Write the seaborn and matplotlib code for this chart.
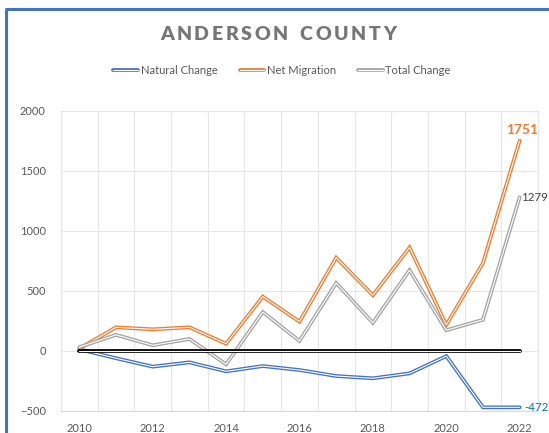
import numpy as np
import pandas as pd
import seaborn as sns
import matplotlib as mpl
import matplotlib.pyplot as plt
from matplotlib.lines import Line2D
from matplotlib.legend_handler import HandlerTuple

# ── Data ────────────────────────────────────────────────────────────────
YEARS = [2010, 2011, 2012, 2013, 2014, 2015, 2016, 2017, 2018, 2019, 2020, 2021, 2022]
NATURAL_CHANGE = [12, -63, -133, -97, -172, -128, -161, -211, -230, -189, -45, -472, -472]
NET_MIGRATION = [18, 195, 178, 195, 58, 450, 242, 775, 462, 860, 215, 730, 1751]
TOTAL_CHANGE = [30, 132, 45, 98, -114, 322, 81, 564, 232, 671, 170, 258, 1279]
BASELINE = [0] * len(YEARS)

SERIES = ["Natural Change", "Net Migration", "Total Change"]
COLORS = {"Natural Change": "#4472C4", "Net Migration": "#ED7D31", "Total Change": "#A5A5A5"}

df = pd.DataFrame({
    "Year": YEARS * 3,
    "Value": NATURAL_CHANGE + NET_MIGRATION + TOTAL_CHANGE,
    "Series": np.repeat(SERIES, len(YEARS)),
})

# ── Style ────────────────────────────────────────────────────────────────
sns.set_style("white")
plt.rcParams["font.family"] = ["Lato", "DejaVu Sans"]
TXT = "#595959"
GRID = "#E6E6E6"
OUTER, INNER = 2.7, 0.8   # double ("compound") line look

fig = plt.figure(figsize=(5.49, 4.33), dpi=100)
fig.patch.set_facecolor("white")
ax = fig.add_axes([61 / 549, 1 - 410.7 / 433, (538 - 61) / 549, 300 / 433])


def double_line(x, y, color):
    sns.lineplot(x=x, y=y, color=color, lw=OUTER, ax=ax, legend=False,
                 solid_joinstyle="miter")
    sns.lineplot(x=x, y=y, color="white", lw=INNER, ax=ax, legend=False,
                 solid_joinstyle="miter")


for name in SERIES:
    sub = df[df["Series"] == name]
    double_line(sub["Year"].to_numpy(), sub["Value"].to_numpy(), COLORS[name])
double_line(np.array(YEARS), np.array(BASELINE), "black")

# ── Axes ─────────────────────────────────────────────────────────────────
ax.set_xlim(2009.5, 2022.5)
ax.set_ylim(-500, 2000)
ax.set_xticks(YEARS[::2])
ax.set_xticks(np.arange(2009.5, 2023, 1), minor=True)
ax.set_yticks(np.arange(-500, 2001, 500))
ax.grid(False)
ax.grid(True, which="minor", axis="x", color=GRID, lw=0.8)
ax.grid(True, which="major", axis="y", color=GRID, lw=0.8)
for s in ax.spines.values():
    s.set_color(GRID)
    s.set_linewidth(0.8)
ax.spines["bottom"].set_color("#D9D9D9")
ax.tick_params(which="both", length=0)
ax.tick_params(axis="y", pad=11, labelsize=8, labelcolor=TXT)
ax.tick_params(axis="x", pad=9, labelsize=8, labelcolor=TXT)
ax.set_xlabel("")
ax.set_ylabel("")

# ── End-point labels ─────────────────────────────────────────────────────
ax.annotate(f"{NET_MIGRATION[-1]}", (YEARS[-1], NET_MIGRATION[-1]), xytext=(2, 3),
            textcoords="offset points", ha="center", va="bottom",
            fontsize=10, fontweight="bold", color="#ED7D31", annotation_clip=False)
ax.annotate(f"{TOTAL_CHANGE[-1]}", (YEARS[-1], TOTAL_CHANGE[-1]), xytext=(1, 0),
            textcoords="offset points", ha="left", va="center",
            fontsize=8.3, color="#404040", annotation_clip=False)
ax.annotate(f"{NATURAL_CHANGE[-1]}", (YEARS[-1], NATURAL_CHANGE[-1]), xytext=(3, 0),
            textcoords="offset points", ha="left", va="center",
            fontsize=8.3, color="#0070C0", annotation_clip=False)

# ── Legend with double-line handles ──────────────────────────────────────
handles = [(Line2D([], [], color=COLORS[n], lw=OUTER), Line2D([], [], color="white", lw=INNER))
           for n in SERIES]
leg = fig.legend(handles, SERIES, loc="center", bbox_to_anchor=(282 / 549, 1 - 70 / 433),
                 ncol=3, frameon=False, fontsize=8, handlelength=2.2,
                 handletextpad=0.25, columnspacing=2.0,
                 handler_map={tuple: HandlerTuple(ndivide=1)})
for t in leg.get_texts():
    t.set_color(TXT)

# ── Letter-spaced title ──────────────────────────────────────────────────
title = "ANDERSON COUNTY"
renderer = fig.canvas.get_renderer()
tkw = dict(fontsize=14, fontweight="heavy", color="#767676")
widths = []
for ch in title:
    probe = fig.text(0, 0, ch if ch != " " else "N", **tkw)
    w = probe.get_window_extent(renderer).width
    widths.append(w * (0.45 if ch == " " else 1.0))
    probe.remove()
spacing = 2.6
total = sum(widths) + spacing * (len(title) - 1)
x = 278 - total / 2
for ch, w in zip(title, widths):
    if ch != " ":
        fig.text(x / 549, 1 - 34.7 / 433, ch, ha="left", va="center", **tkw)
    x += w + spacing

# ── Chart border (blue, left + top visible in the crop) ──────────────────
fig.add_artist(Line2D([6 / 549, 6 / 549], [0, 1 - 9 / 433], color="#4472C4", lw=2.2,
                      transform=fig.transFigure, solid_capstyle="butt"))
fig.add_artist(Line2D([5 / 549, 1], [1 - 9 / 433, 1 - 9 / 433], color="#4472C4", lw=2.2,
                      transform=fig.transFigure, solid_capstyle="butt"))

fig.savefig("out.png", dpi=100, facecolor="white")
plt.close(fig)
